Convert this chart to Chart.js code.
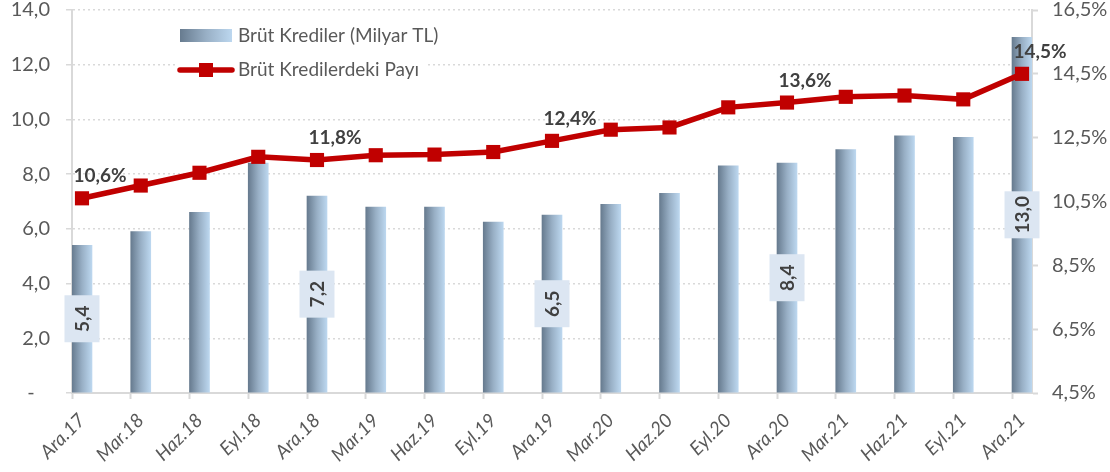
<!DOCTYPE html>
<html lang="tr">
<head>
  <meta charset="UTF-8">
  <title>Brüt Krediler</title>
  <script src="https://cdn.jsdelivr.net/npm/chart.js"></script>
  <style>
    html, body { margin: 0; padding: 0; background: #fff; }
    #chartBox { width: 1110px; height: 472px; }
  </style>
</head>
<body>
  <div id="chartBox">
    <canvas id="krediChart" width="1110" height="472"></canvas>
  </div>

  <script>
    // Quarterly periods (Dec 2017 - Dec 2021)
    const periods = ['Ara.17', 'Mar.18', 'Haz.18', 'Eyl.18', 'Ara.18', 'Mar.19', 'Haz.19', 'Eyl.19', 'Ara.19',
                     'Mar.20', 'Haz.20', 'Eyl.20', 'Ara.20', 'Mar.21', 'Haz.21', 'Eyl.21', 'Ara.21'];
    // Gross loans, billion TL (left axis)
    const loans = [5.4, 5.9, 6.6, 8.4, 7.2, 6.8, 6.8, 6.25, 6.5, 6.9, 7.3, 8.3, 8.4, 8.9, 9.4, 9.35, 13.0];
    // Share in gross loans, % (right axis)
    const share = [10.6, 11.0, 11.4, 11.9, 11.8, 11.95, 11.97, 12.05, 12.4, 12.75, 12.82, 13.45, 13.6, 13.78, 13.82, 13.7, 14.5];
    // Periods that carry value labels (year-end)
    const labelled = [0, 4, 8, 12, 16];
    // Axis ticks
    const loanTicks = [0, 2, 4, 6, 8, 10, 12, 14];
    const shareTicks = [4.5, 6.5, 8.5, 10.5, 12.5, 14.5, 16.5];

    const FONT = 'Lato, "Open Sans", sans-serif';
    const GREY = '#595959';
    const AXIS = '#D9D9D9';
    const BAR_SHIFT = 0.17;   // bars sit just right of each tick mark
    const BAR_W = 20;

    const comma = (v, d) => v.toFixed(d).replace('.', ',');

    function barGradient(ctx, x0, x1) {
      const g = ctx.createLinearGradient(x0, 0, x1, 0);
      g.addColorStop(0, '#677B8F');
      g.addColorStop(0.5, '#98AFC5');
      g.addColorStop(1, '#BCD7EF');
      return g;
    }

    function barFill(c) {
      const xs = c.chart.scales.x;
      if (c.type !== 'data' || !xs) return '#98AFC5';
      const cx = xs.getPixelForValue(c.raw.x);
      if (!Number.isFinite(cx)) return '#98AFC5';
      return barGradient(c.chart.ctx, cx - BAR_W / 2, cx + BAR_W / 2);
    }

    // scales keep their measured size but no extra edge padding
    function noEdgePadding(s) {
      s.paddingTop = s.paddingBottom = s.paddingLeft = s.paddingRight = 0;
    }

    // Year-end value labels: boxed vertical numbers on bars, percentages above the line
    const valueLabels = {
      id: 'valueLabels',
      afterDatasetsDraw(chart) {
        const ctx = chart.ctx;
        const lineMeta = chart.getDatasetMeta(0);
        const barMeta = chart.getDatasetMeta(1);
        ctx.save();
        ctx.textAlign = 'center';
        ctx.textBaseline = 'middle';
        ctx.font = 'bold 19px ' + FONT;
        labelled.forEach(i => {
          const bar = barMeta.data[i];
          const midY = (bar.y + bar.base) / 2;
          ctx.fillStyle = '#DCE6F2';
          ctx.fillRect(bar.x - 17.5, midY - 23.5, 35, 47);
          ctx.save();
          ctx.translate(bar.x, midY);
          ctx.rotate(-Math.PI / 2);
          ctx.fillStyle = '#404040';
          ctx.fillText(comma(loans[i], 1), 0, 1);
          ctx.restore();

          const pt = lineMeta.data[i];
          ctx.fillStyle = '#404040';
          ctx.fillText(comma(share[i], 1) + '%', pt.x + 18, pt.y - 22);
        });
        ctx.restore();
      }
    };

    // Legend box in the upper left of the plot
    const legendBox = {
      id: 'legendBox',
      afterDraw(chart) {
        const ctx = chart.ctx;
        const lx = 178, tx = 238;
        ctx.save();
        ctx.fillStyle = '#fff';
        ctx.fillRect(lx - 1, 22, 250, 60);

        ctx.fillStyle = barGradient(ctx, lx + 2, lx + 54);
        ctx.fillRect(lx + 2, 29, 52, 13);

        ctx.strokeStyle = '#C00000';
        ctx.lineWidth = 5.5;
        ctx.lineCap = 'round';
        ctx.beginPath();
        ctx.moveTo(lx + 2, 70);
        ctx.lineTo(lx + 54, 70);
        ctx.stroke();
        ctx.fillStyle = '#C00000';
        ctx.fillRect(lx + 21, 63, 14, 14);

        ctx.fillStyle = GREY;
        ctx.font = '19px ' + FONT;
        ctx.textBaseline = 'middle';
        ctx.fillText(chart.data.datasets[1].label, tx, 36);
        ctx.fillText(chart.data.datasets[0].label, tx, 70);
        ctx.restore();
      }
    };

    const ctx = document.getElementById('krediChart').getContext('2d');
    new Chart(ctx, {
      data: {
        datasets: [
          {
            type: 'line',
            label: 'Brüt Kredilerdeki Payı',
            yAxisID: 'yShare',
            data: share.map((v, i) => ({ x: i + BAR_SHIFT, y: v })),
            borderColor: '#C00000',
            backgroundColor: '#C00000',
            borderWidth: 5.5,
            pointStyle: 'rect',
            pointRadius: 10,
            pointBorderWidth: 0,
            tension: 0,
            order: 0
          },
          {
            type: 'bar',
            label: 'Brüt Krediler (Milyar TL)',
            yAxisID: 'yLoans',
            data: loans.map((v, i) => ({ x: i + BAR_SHIFT, y: v })),
            backgroundColor: barFill,
            barThickness: BAR_W,
            order: 1
          }
        ]
      },
      options: {
        responsive: false,
        animation: false,
        layout: { padding: { top: 10 } },
        plugins: {
          legend: { display: false },
          tooltip: { enabled: false }
        },
        scales: {
          x: {
            type: 'linear',
            offset: false,
            min: 0,
            max: periods.length - 1 + BAR_SHIFT * 2,
            afterBuildTicks: s => { s.ticks = periods.map((_, i) => ({ value: i })); },
            afterFit: s => { s.height = 79; noEdgePadding(s); },
            grid: { offset: false, drawOnChartArea: false, drawTicks: true, tickLength: 6, tickColor: AXIS, tickWidth: 2 },
            border: { color: AXIS, width: 2 },
            ticks: {
              autoSkip: false,
              minRotation: 45,
              maxRotation: 45,
              labelOffset: 10,
              padding: 10,
              color: GREY,
              font: { family: FONT, size: 19, style: 'italic' },
              callback: v => periods[v]
            }
          },
          yLoans: {
            position: 'left',
            min: 0,
            max: 14,
            afterBuildTicks: s => { s.ticks = loanTicks.map(v => ({ value: v })); },
            afterFit: s => { s.width = 72; noEdgePadding(s); },
            grid: { color: AXIS, lineWidth: 1.5, tickLength: 6, tickColor: AXIS, tickWidth: 1.5, tickBorderDash: [] },
            border: { color: AXIS, width: 2, dash: [2, 3] },
            ticks: {
              padding: 16,
              color: GREY,
              font: { family: FONT, size: 20 },
              // zero shown as an accounting dash, set in from the other labels
              callback: v => (v === 0 ? '-   ' : comma(v, 1))
            }
          },
          yShare: {
            position: 'right',
            min: 4.5,
            max: 16.5,
            afterBuildTicks: s => { s.ticks = shareTicks.map(v => ({ value: v })); },
            afterFit: s => { s.width = 78; noEdgePadding(s); },
            grid: { drawOnChartArea: false, tickLength: 6, tickColor: AXIS, tickWidth: 2 },
            border: { color: AXIS, width: 2 },
            ticks: {
              padding: 14,
              color: GREY,
              font: { family: FONT, size: 20 },
              callback: v => comma(v, 1) + '%'
            }
          }
        }
      },
      plugins: [valueLabels, legendBox]
    });
  </script>
</body>
</html>
